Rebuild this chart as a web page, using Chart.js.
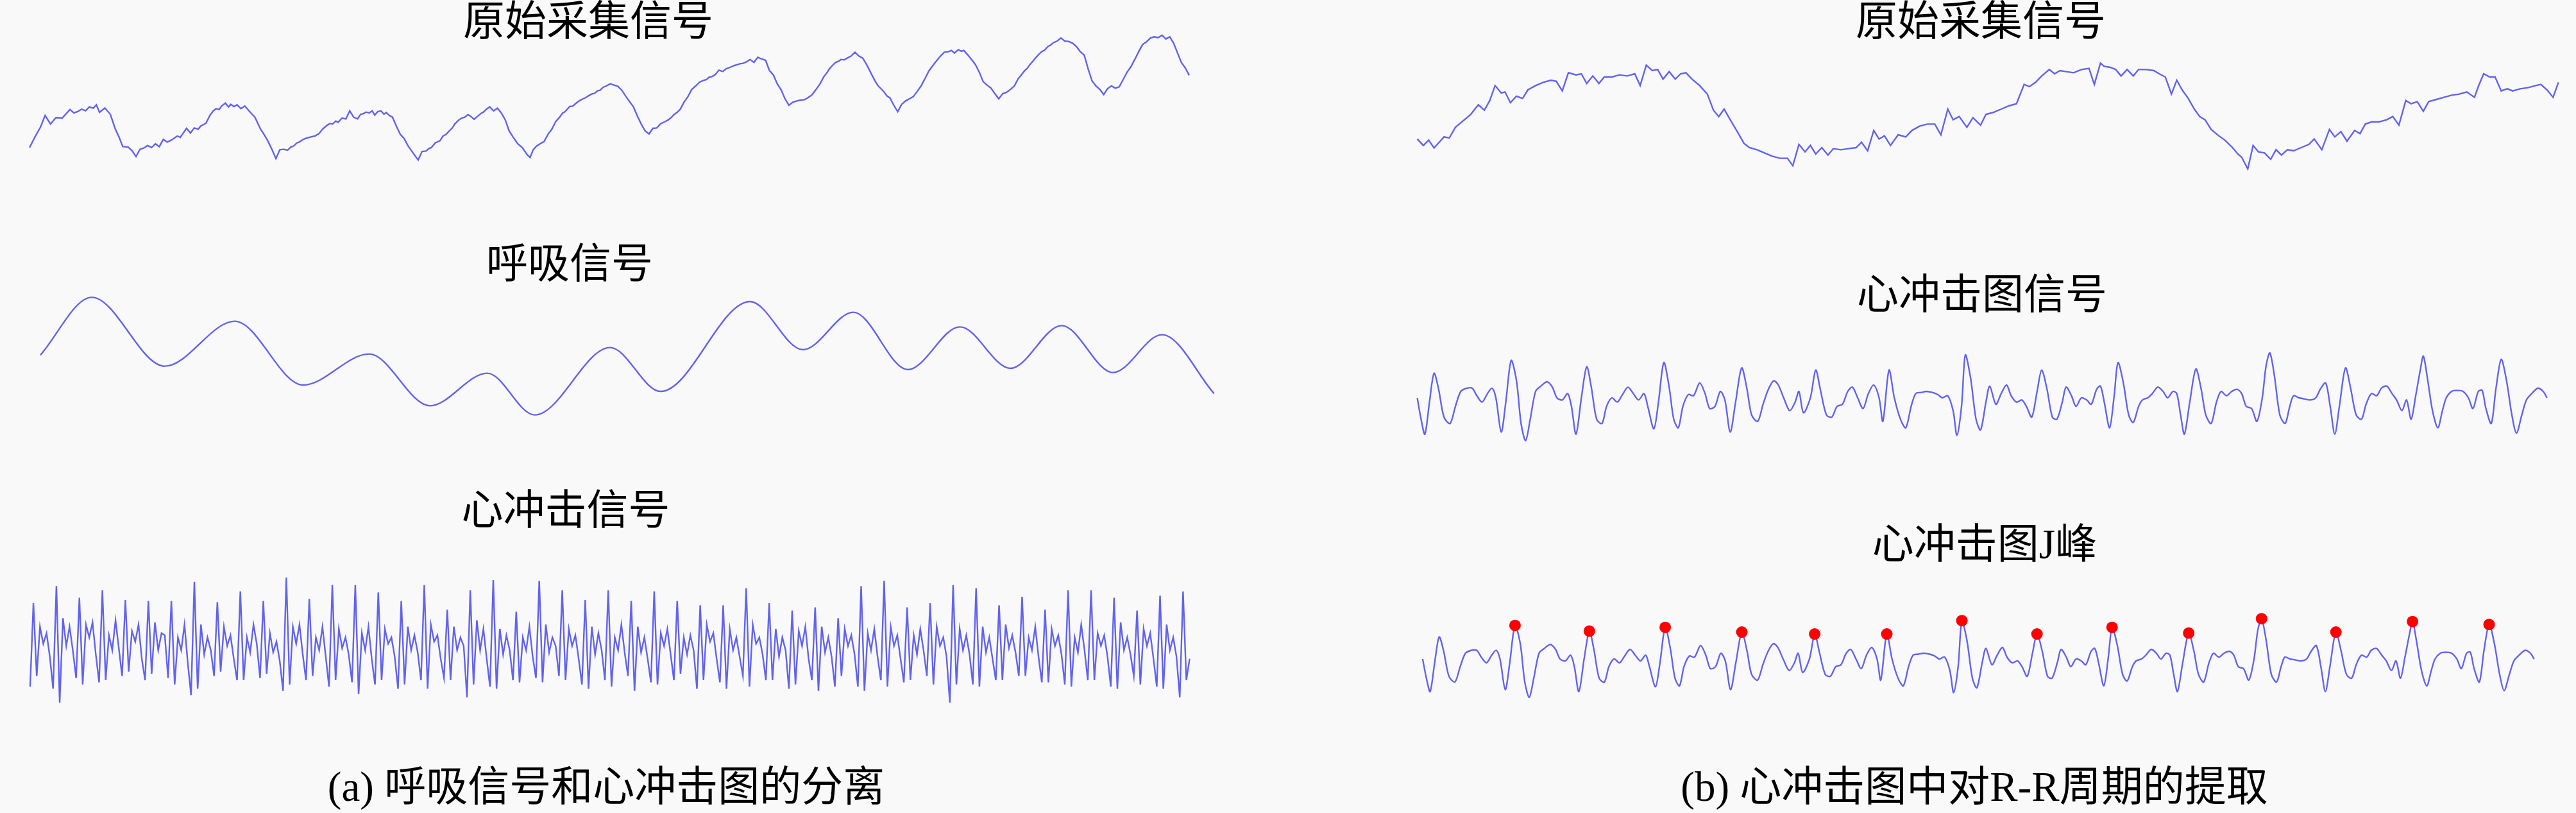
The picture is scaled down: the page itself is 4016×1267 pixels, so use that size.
<!DOCTYPE html>
<html lang="zh">
<head>
<meta charset="UTF-8">
<title>呼吸信号与心冲击图</title>
<script src="https://cdn.jsdelivr.net/npm/chart.js"></script>
<style>
  body {
    margin: 0;
    background: #f9f9f9;
  }
  #fig {
    position: relative;
    width: 4016px;
    height: 1267px;
    background: #f9f9f9;
    overflow: hidden;
  }
  canvas {
    position: absolute;
  }
  .label {
    position: absolute;
    transform: translate(-50%, -50%);
    white-space: nowrap;
    font-family: "Liberation Serif", "Noto Sans CJK SC", serif;
    font-size: 65px;
    line-height: 1;
    color: #000;
  }
</style>
</head>
<body>
<div id="fig">
  <canvas id="rawLeft" width="1900" height="280" style="left:0;top:0"></canvas>
  <canvas id="resp" width="1900" height="300" style="left:0;top:380px"></canvas>
  <canvas id="bcgLeft" width="1900" height="340" style="left:0;top:760px"></canvas>
  <canvas id="rawRight" width="1866" height="300" style="left:2150px;top:0"></canvas>
  <canvas id="bcgRight" width="1866" height="280" style="left:2150px;top:420px"></canvas>
  <canvas id="jPeaks" width="1866" height="320" style="left:2150px;top:800px"></canvas>

  <div class="label" style="left:917px;top:33px">原始采集信号</div>
  <div class="label" style="left:888px;top:411px">呼吸信号</div>
  <div class="label" style="left:882px;top:795px">心冲击信号</div>
  <div class="label" style="left:945px;top:1226px">(a) 呼吸信号和心冲击图的分离</div>

  <div class="label" style="left:3088px;top:33px">原始采集信号</div>
  <div class="label" style="left:3090px;top:459px">心冲击图信号</div>
  <div class="label" style="left:3094px;top:848px">心冲击图J峰</div>
  <div class="label" style="left:3078px;top:1226px">(b) 心冲击图中对R-R周期的提取</div>
</div>
<script>
// raw sensor signal, left panel  [sample, amplitude]
const rawLeft = [
  [38,690],[45,640],[52,595],[58,540],[65,580],[72,550],[80,552],[90,512],[95,528],[100,522],
  [105,510],[110,518],[115,500],[120,506],[124,490],[128,525],[135,505],[142,535],[148,600],[153,640],
  [158,685],[165,688],[170,705],[175,732],[180,698],[185,692],[190,680],[195,690],[200,672],[205,686],
  [210,652],[215,664],[220,656],[228,636],[232,642],[235,626],[240,600],[245,622],[250,598],[255,604],
  [258,590],[265,576],[270,540],[274,520],[278,508],[282,512],[285,496],[290,482],[294,500],[297,488],
  [301,498],[305,490],[310,508],[315,496],[322,525],[328,548],[335,602],[340,630],[345,662],[350,700],
  [355,742],[360,700],[365,698],[370,702],[374,688],[378,682],[382,668],[385,664],[390,652],[395,645],
  [400,640],[405,636],[410,626],[415,604],[420,588],[424,578],[428,580],[432,566],[435,572],[440,552],
  [445,556],[450,518],[455,548],[460,556],[464,534],[467,532],[471,524],[475,528],[479,518],[482,538],
  [486,522],[490,518],[494,534],[497,526],[501,540],[505,548],[510,590],[515,628],[520,648],[525,682],
  [532,718],[538,748],[543,708],[548,706],[552,694],[555,690],[560,668],[566,658],[570,636],[574,628],
  [578,612],[582,598],[585,580],[590,562],[594,552],[598,548],[602,536],[605,542],[610,558],[615,542],
  [619,530],[622,524],[626,510],[630,500],[635,518],[640,506],[645,528],[650,560],[655,612],[660,640],
  [666,672],[672,690],[678,722],[682,736],[686,700],[690,684],[695,672],[700,662],[705,628],[710,604],
  [715,568],[720,548],[724,528],[727,522],[733,498],[737,496],[740,486],[745,472],[750,462],[754,456],
  [757,448],[761,440],[765,436],[769,424],[772,422],[776,408],[780,402],[785,392],[790,398],[795,404],
  [800,422],[807,460],[815,500],[820,542],[825,580],[830,612],[835,626],[840,600],[845,598],[850,578],
  [855,570],[860,560],[864,548],[867,536],[871,526],[875,512],[880,478],[885,452],[890,418],[895,402],
  [900,384],[905,376],[909,372],[912,362],[916,358],[920,350],[925,328],[930,334],[934,322],[937,318],
  [941,312],[945,306],[949,302],[952,298],[956,296],[960,290],[965,278],[970,292],[975,268],[980,276],
  [985,282],[990,330],[995,350],[1000,392],[1005,420],[1010,462],[1015,492],[1020,478],[1025,472],[1030,468],
  [1035,466],[1040,456],[1045,442],[1050,418],[1055,392],[1060,358],[1064,340],[1067,322],[1071,306],[1075,292],
  [1079,286],[1082,278],[1086,280],[1090,272],[1095,262],[1100,244],[1105,262],[1110,272],[1115,302],[1122,352],
  [1126,380],[1130,402],[1137,428],[1141,448],[1145,458],[1150,492],[1155,522],[1160,488],[1165,472],[1170,462],
  [1175,452],[1180,428],[1185,402],[1190,368],[1195,332],[1202,298],[1206,280],[1210,262],[1215,244],[1220,242],
  [1224,236],[1228,248],[1233,232],[1237,240],[1240,236],[1245,256],[1250,278],[1255,302],[1260,338],[1265,382],
  [1270,398],[1275,412],[1280,438],[1285,462],[1290,438],[1295,432],[1300,418],[1305,402],[1310,368],[1314,350],
  [1318,332],[1322,318],[1325,302],[1329,286],[1332,272],[1336,256],[1340,242],[1344,234],[1348,218],[1352,210],
  [1355,200],[1360,192],[1365,178],[1370,192],[1375,194],[1380,202],[1385,218],[1390,242],[1395,258],[1400,322],
  [1405,378],[1410,402],[1415,418],[1420,442],[1425,414],[1430,402],[1435,412],[1440,406],[1445,372],[1450,338],
  [1455,312],[1460,278],[1465,242],[1470,208],[1475,196],[1480,178],[1485,172],[1490,176],[1495,164],[1500,182],
  [1505,172],[1510,202],[1515,248],[1520,292],[1525,318],[1530,352]
];

// respiration component  [sample, amplitude]
const respiration = [
  [52,520],[118,250],[212,572],[302,362],[390,660],[475,515],[553,757],[627,605],[688,800],[785,485],
  [850,690],[965,270],[1033,495],[1098,320],[1168,588],[1235,388],[1300,582],[1366,382],[1432,602],[1495,425],
  [1562,700]
];

// heartbeat (BCG) component, left panel, one beat per row
const bcgLeft = [
  930,
  540, 880, 650, 730, 680, 790, 940,
  460, 1005, 610, 740, 650, 760, 890,
  515, 920, 640, 700, 630, 780, 910,
  480, 900, 690, 760, 620, 750, 880,
  525, 860, 670, 720, 640, 800, 900,
  530, 870, 630, 760, 680, 690, 890,
  530, 920, 700, 760, 640, 820, 970,
  440, 940, 640, 780, 700, 760, 880,
  535, 860, 650, 740, 690, 800, 900,
  485, 900, 700, 770, 640, 730, 890,
  530, 870, 680, 770, 720, 810, 950,
  420, 920, 650, 730, 640, 780, 900,
  520, 880, 700, 760, 650, 790, 930,
  455, 900, 660, 750, 700, 780, 910,
  455, 965, 680, 760, 650, 800, 920,
  490, 900, 660, 730, 700, 790, 940,
  530, 920, 650, 760, 690, 770, 900,
  455, 940, 640, 720, 690, 800, 890,
  570, 900, 650, 760, 700, 740, 980,
  480, 920, 620, 760, 660, 800, 930,
  432, 940, 660, 780, 690, 760, 900,
  580, 910, 700, 760, 650, 790, 890,
  435, 910, 640, 770, 700, 740, 880,
  480, 900, 660, 740, 690, 800, 920,
  525, 940, 650, 780, 680, 760, 900,
  480, 930, 700, 760, 640, 770, 880,
  530, 950, 650, 770, 700, 800, 910,
  485, 920, 680, 740, 660, 780, 900,
  530, 870, 700, 780, 690, 760, 940,
  550, 900, 640, 720, 680, 800, 910,
  550, 940, 660, 760, 700, 790, 880,
  470, 930, 640, 730, 700, 780, 900,
  540, 900, 660, 790, 700, 760, 940,
  575, 920, 670, 740, 650, 800, 900,
  560, 950, 650, 770, 700, 790, 930,
  610, 880, 660, 740, 690, 780, 930,
  460, 950, 680, 760, 660, 790, 900,
  435, 930, 650, 740, 690, 800, 910,
  560, 900, 690, 780, 660, 760, 880,
  540, 920, 650, 740, 700, 790, 1005,
  455, 920, 660, 760, 690, 780, 920,
  470, 930, 650, 770, 700, 800, 900,
  550, 900, 640, 750, 690, 770, 880,
  510, 880, 700, 760, 650, 790, 910,
  570, 910, 660, 740, 690, 780, 920,
  480, 930, 700, 770, 640, 760, 900,
  480, 900, 680, 740, 690, 790, 930,
  515, 940, 630, 760, 700, 780, 880,
  575, 920, 660, 740, 680, 800, 930,
  505, 940, 640, 760, 700, 790, 980,
  485, 900, 800
];

// raw sensor signal, right panel  [sample, amplitude]
const rawRight = [
  [50,650],[58,680],[65,655],[72,692],[80,660],[85,640],[92,645],[100,595],[110,565],[120,535],
  [130,490],[138,515],[145,470],[152,400],[160,435],[165,430],[172,480],[180,450],[188,460],[195,420],
  [205,400],[215,385],[225,375],[232,380],[240,425],[248,340],[258,350],[265,345],[272,390],[280,355],
  [288,390],[295,360],[305,360],[315,350],[325,355],[335,345],[342,400],[350,305],[358,330],[365,325],
  [372,370],[380,335],[388,370],[395,345],[402,340],[410,370],[420,400],[430,440],[438,515],[445,545],
  [452,510],[460,560],[465,590],[470,620],[478,670],[485,690],[495,700],[505,715],[515,730],[525,740],
  [535,740],[542,775],[550,675],[558,710],[565,680],[572,720],[580,690],[588,725],[595,695],[605,700],
  [615,695],[625,690],[632,665],[640,705],[648,610],[655,650],[662,635],[670,680],[680,630],[690,640],
  [698,610],[708,590],[718,580],[728,580],[736,630],[745,510],[752,560],[760,545],[770,595],[778,550],
  [788,585],[795,535],[805,525],[815,510],[825,495],[835,485],[845,395],[852,405],[860,385],[868,355],
  [878,325],[885,345],[892,330],[900,335],[910,340],[920,325],[930,320],[937,395],[945,295],[950,310],
  [958,315],[965,325],[972,355],[980,325],[988,355],[995,325],[1005,325],[1015,330],[1022,345],[1030,360],
  [1038,440],[1045,375],[1052,420],[1060,460],[1068,510],[1075,545],[1082,560],[1090,605],[1100,635],[1108,655],
  [1118,690],[1125,720],[1130,735],[1138,790],[1145,680],[1152,710],[1160,715],[1168,745],[1175,700],[1182,725],
  [1190,700],[1198,705],[1208,690],[1218,675],[1225,650],[1235,700],[1245,605],[1252,640],[1260,615],[1268,660],
  [1278,610],[1285,625],[1292,580],[1300,570],[1310,570],[1320,560],[1328,545],[1336,585],[1345,470],[1352,485],
  [1360,475],[1368,520],[1375,475],[1385,465],[1395,455],[1405,445],[1415,440],[1425,430],[1435,455],[1440,405],
  [1447,345],[1455,360],[1462,360],[1470,425],[1478,415],[1485,425],[1495,415],[1505,410],[1515,400],[1522,395],
  [1530,420],[1538,455],[1545,385]
];

// ballistocardiogram, right panel  [sample, amplitude]
const bcgRight = [
  [50,600],[55,700],[60,770],[66,620],[72,485],[78,560],[85,690],[93,720],[100,640],[107,570],
  [115,555],[122,555],[128,590],[135,620],[142,580],[148,555],[153,600],[160,760],[166,620],[173,425],
  [180,520],[186,720],[192,800],[198,700],[205,570],[212,545],[220,525],[227,550],[233,600],[240,610],
  [247,580],[252,640],[258,770],[265,600],[272,455],[278,550],[285,700],[292,720],[298,640],[305,600],
  [312,620],[318,590],[326,550],[333,580],[340,610],[347,580],[352,640],[360,745],[366,620],[373,435],
  [380,550],[386,700],[392,740],[398,640],[405,585],[412,590],[420,530],[427,580],[433,650],[440,640],
  [447,570],[453,610],[460,760],[467,620],[475,460],[482,560],[488,680],[496,710],[503,630],[510,560],
  [517,520],[523,540],[530,600],[538,660],[545,620],[550,570],[556,670],[565,600],[572,470],[578,560],
  [586,680],[593,690],[600,640],[607,630],[614,570],[620,550],[627,600],[634,650],[641,580],[648,540],
  [655,600],[660,710],[668,470],[675,600],[683,700],[690,740],[697,640],[703,580],[710,575],[717,570],
  [725,575],[732,585],[738,600],[745,590],[752,660],[757,775],[763,640],[768,400],[775,510],[782,700],
  [788,750],[795,620],[800,545],[808,630],[815,580],[822,540],[828,590],[835,620],[842,610],[848,640],
  [855,690],[862,570],[868,470],[875,560],[882,690],[888,700],[895,620],[900,550],[907,590],[913,640],
  [920,600],[927,610],[933,630],[940,560],[945,545],[950,620],[957,740],[963,590],[968,435],[975,530],
  [982,680],[988,715],[995,640],[1000,610],[1007,600],[1013,580],[1020,550],[1027,570],[1033,600],[1040,570],
  [1045,580],[1050,680],[1055,770],[1062,620],[1070,465],[1077,560],[1083,680],[1090,720],[1097,620],[1103,570],
  [1110,590],[1117,570],[1124,560],[1130,580],[1136,640],[1143,650],[1150,710],[1157,600],[1162,450],[1167,390],
  [1173,500],[1180,680],[1187,720],[1193,640],[1198,590],[1205,600],[1212,605],[1220,610],[1227,600],[1233,560],
  [1240,530],[1246,640],[1252,770],[1258,640],[1266,460],[1273,560],[1280,680],[1287,700],[1293,630],[1300,580],
  [1307,590],[1313,555],[1320,545],[1327,580],[1333,610],[1340,660],[1346,610],[1352,700],[1358,590],[1364,470],
  [1368,405],[1373,500],[1380,660],[1387,740],[1393,660],[1398,600],[1405,570],[1412,565],[1420,570],[1427,600],
  [1433,650],[1440,570],[1445,565],[1450,650],[1457,720],[1463,560],[1470,420],[1477,520],[1484,680],[1490,765],
  [1497,680],[1503,610],[1510,580],[1518,555],[1525,570],[1530,600]
];

// detected J peaks  [sample, amplitude]
const jPeaks = [
  [173,425],[272,455],[373,435],[475,460],[572,470],[668,470],[768,400],
  [868,470],[968,435],[1070,465],[1167,390],[1266,460],[1368,405],[1470,420]
];

const LINE = '#6262f0';
const toXY = arr => arr.map(p => ({ x: p[0], y: p[1] }));

function trace(points, extra) {
  return Object.assign({
    data: points,
    showLine: true,
    borderColor: LINE,
    borderWidth: 2.4,
    pointRadius: 0,
    tension: 0
  }, extra || {});
}

function plot(id, datasets, xr, yr) {
  new Chart(document.getElementById(id), {
    type: 'scatter',
    data: { datasets: datasets },
    options: {
      responsive: false,
      animation: false,
      devicePixelRatio: 1,
      layout: { padding: 0 },
      plugins: { legend: { display: false }, tooltip: { enabled: false } },
      scales: {
        x: { type: 'linear', display: false, min: xr[0], max: xr[1] },
        y: { display: false, min: yr[0], max: yr[1], reverse: true }
      }
    }
  });
}

plot('rawLeft', [trace(toXY(rawLeft))], [0, 1568], [0, 840]);
plot('resp', [trace(toXY(respiration), { cubicInterpolationMode: 'monotone' })], [0, 1568], [0, 900]);
plot('bcgLeft', [trace(bcgLeft.map((v, i) => ({ x: i, y: v })))], [-9.17, 361.86], [0, 1020]);
plot('rawRight', [trace(toXY(rawRight))], [0, 1568], [0, 900]);
plot('bcgRight', [trace(toXY(bcgRight), { tension: 0.3 })], [0, 1568], [0, 840]);
plot('jPeaks', [
  {
    data: toXY(jPeaks),
    pointRadius: 9,
    pointBackgroundColor: '#ff0000',
    pointBorderWidth: 0
  },
  trace(toXY(bcgRight), { tension: 0.3 })
], [-0.3, 1578], [-129, 881]);
</script>
</body>
</html>
